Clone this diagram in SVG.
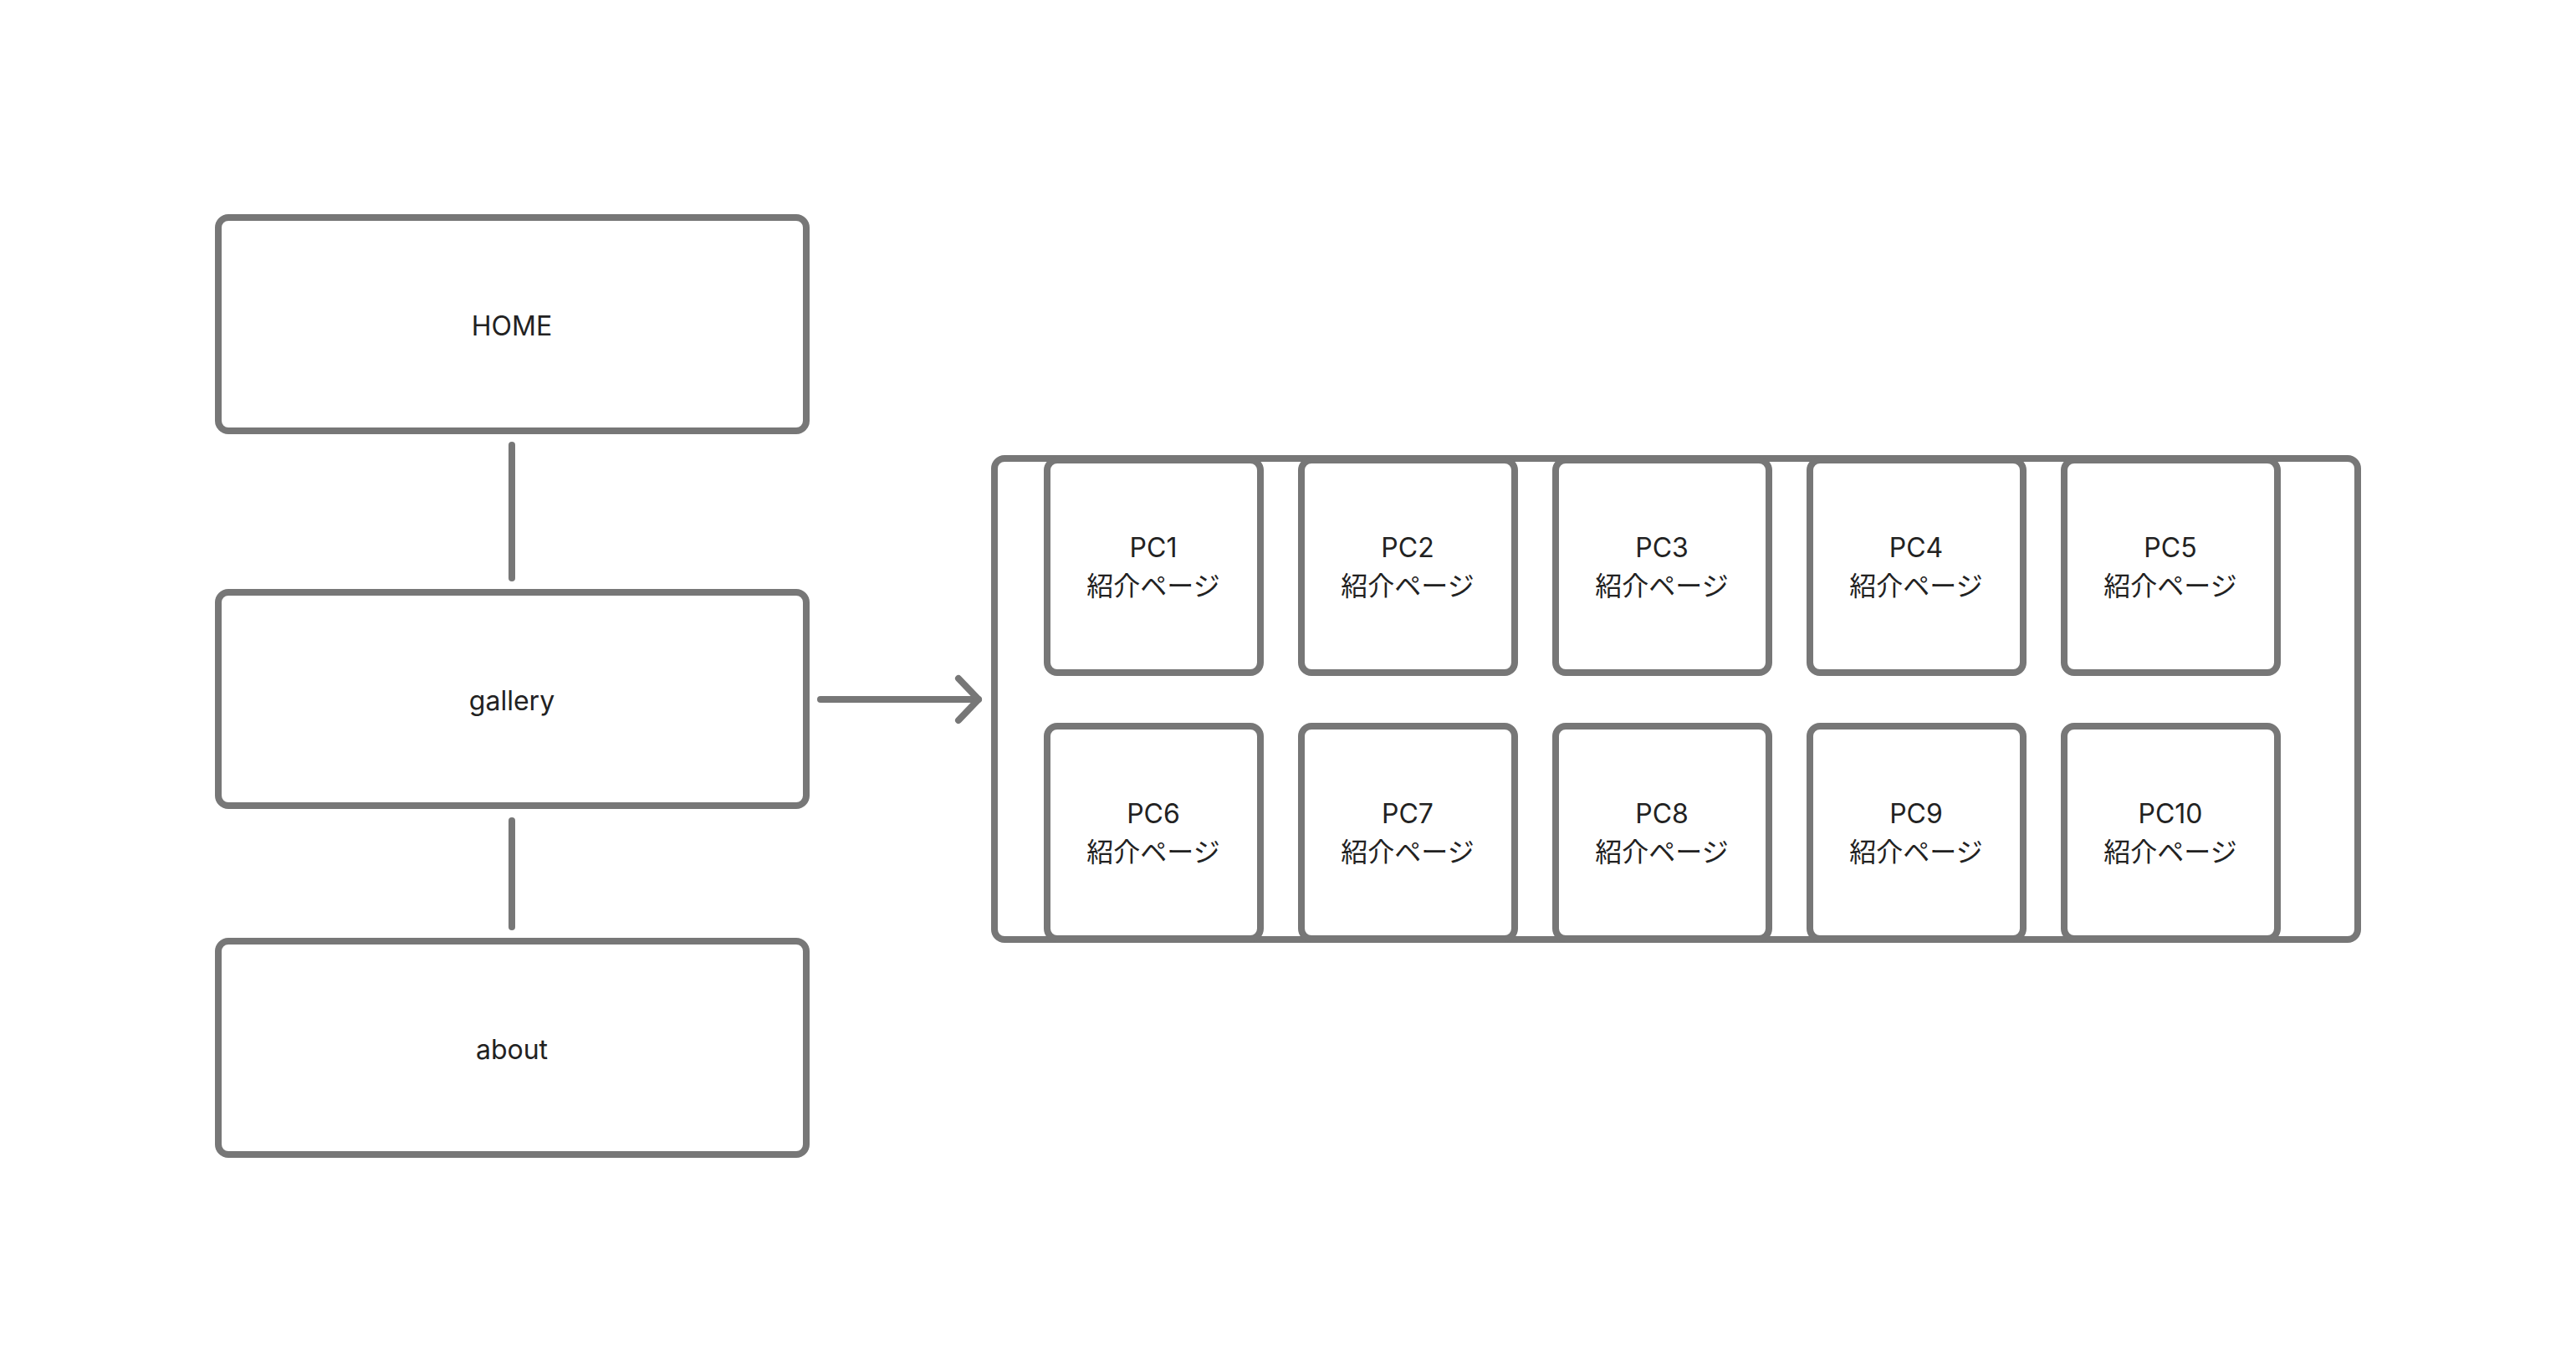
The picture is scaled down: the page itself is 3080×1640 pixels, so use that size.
<svg xmlns="http://www.w3.org/2000/svg" width="3080" height="1640" viewBox="0 0 3080 1640">
<style>
.box{fill:#ffffff;stroke:#777777;stroke-width:8}
.ln{fill:none;stroke:#777777;stroke-width:8;stroke-linecap:round;stroke-linejoin:round}
.t{font-family:Inter,"Noto Sans","Noto Sans CJK JP",sans-serif;font-size:32px;fill:#222222;text-anchor:middle}
</style>
<rect width="3080" height="1640" fill="#ffffff"/>
<g id="home"><rect class="box" x="261" y="260" width="703" height="255" rx="12"/><text class="t" x="612" y="401">HOME</text></g>
<g id="gallery"><rect class="box" x="261" y="708" width="703" height="255" rx="12"/><text class="t" x="612" y="849">gallery</text></g>
<g id="about"><rect class="box" x="261" y="1125" width="703" height="255" rx="12"/><text class="t" x="612" y="1266">about</text></g>
<g id="container"><rect class="box" x="1189" y="548" width="1630" height="575" rx="12"/></g>
<g id="pc1"><rect class="box" x="1252" y="550" width="255" height="254" rx="12"/><text class="t" x="1379" y="666">PC1</text><text class="t" x="1379" y="712">紹介ページ</text></g>
<g id="pc2"><rect class="box" x="1556" y="550" width="255" height="254" rx="12"/><text class="t" x="1683" y="666">PC2</text><text class="t" x="1683" y="712">紹介ページ</text></g>
<g id="pc3"><rect class="box" x="1860" y="550" width="255" height="254" rx="12"/><text class="t" x="1987" y="666">PC3</text><text class="t" x="1987" y="712">紹介ページ</text></g>
<g id="pc4"><rect class="box" x="2164" y="550" width="255" height="254" rx="12"/><text class="t" x="2291" y="666">PC4</text><text class="t" x="2291" y="712">紹介ページ</text></g>
<g id="pc5"><rect class="box" x="2468" y="550" width="255" height="254" rx="12"/><text class="t" x="2595" y="666">PC5</text><text class="t" x="2595" y="712">紹介ページ</text></g>
<g id="pc6"><rect class="box" x="1252" y="868" width="255" height="254" rx="12"/><text class="t" x="1379" y="984">PC6</text><text class="t" x="1379" y="1030">紹介ページ</text></g>
<g id="pc7"><rect class="box" x="1556" y="868" width="255" height="254" rx="12"/><text class="t" x="1683" y="984">PC7</text><text class="t" x="1683" y="1030">紹介ページ</text></g>
<g id="pc8"><rect class="box" x="1860" y="868" width="255" height="254" rx="12"/><text class="t" x="1987" y="984">PC8</text><text class="t" x="1987" y="1030">紹介ページ</text></g>
<g id="pc9"><rect class="box" x="2164" y="868" width="255" height="254" rx="12"/><text class="t" x="2291" y="984">PC9</text><text class="t" x="2291" y="1030">紹介ページ</text></g>
<g id="pc10"><rect class="box" x="2468" y="868" width="255" height="254" rx="12"/><text class="t" x="2595" y="984">PC10</text><text class="t" x="2595" y="1030">紹介ページ</text></g>
<g id="connectors">
<line class="ln" x1="612" y1="532" x2="612" y2="691"/>
<line class="ln" x1="612" y1="981" x2="612" y2="1108"/>
<line class="ln" x1="981" y1="836" x2="1170" y2="836"/>
<polyline class="ln" points="1146,811 1170,836 1146,861"/>
</g>
</svg>
